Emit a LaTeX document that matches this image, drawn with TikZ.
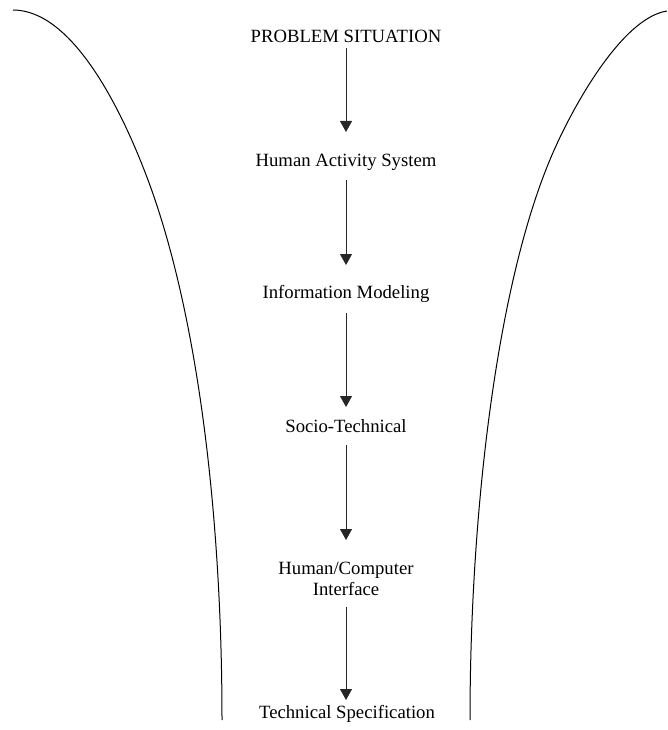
\documentclass[tikz,border=0pt]{standalone}
\usepackage{fontspec}
\setmainfont{Liberation Serif}
\usetikzlibrary{arrows.meta}

\tikzset{
  stage/.style={inner sep=0pt, outer sep=0pt, anchor=base,
    font=\fontsize{18.7}{21}\selectfont, text height=13pt, text depth=4pt},
  flow/.style={draw=black!85, line width=0.9pt,
    -{Triangle[width=12pt,length=11pt]}},
  funnel/.style={draw=black, line width=1pt}
}

\begin{document}
\begin{tikzpicture}[x=1pt, y=-1pt]
  \useasboundingbox (0,0) rectangle (667,730);

  % funnel walls
  \draw[funnel] (13,10) .. controls (73,10) and (121,111) .. (143,167)
                        .. controls (198.5,306.5) and (222,520) .. (222,720);
  \draw[funnel] (667,11) .. controls (620,18) and (567,116) .. (547,167)
                         .. controls (495,297) and (470,520) .. (470,720);

  % stages
  \node[stage] (ps)  at (346,43)  {PROBLEM SITUATION};
  \node[stage] (has) at (346,167) {Human Activity System};
  \node[stage] (im)  at (346,298) {Information Modeling};
  \node[stage] (st)  at (346,432) {Socio-Technical};
  \node[stage, anchor=north, align=center, text height={}, text depth={}]
    (hci) at (346,562) {Human/Computer\\Interface};
  \node[stage] (ts)  at (347,718) {Technical Specification};

  % flow between stages
  \draw[flow, shorten <=1pt,  shorten >=22pt] (ps.south)  -- (has.north);
  \draw[flow, shorten <=9pt,  shorten >=20pt] (has.south) -- (im.north);
  \draw[flow, shorten <=11pt, shorten >=12pt] (im.south)  -- (st.north);
  \draw[flow, shorten <=9pt,  shorten >=22pt] (st.south)  -- (hci.north);
  \draw[flow, shorten <=11pt, shorten >=5pt]  (hci.south) -- (ts.north -| hci.south);
\end{tikzpicture}
\end{document}
